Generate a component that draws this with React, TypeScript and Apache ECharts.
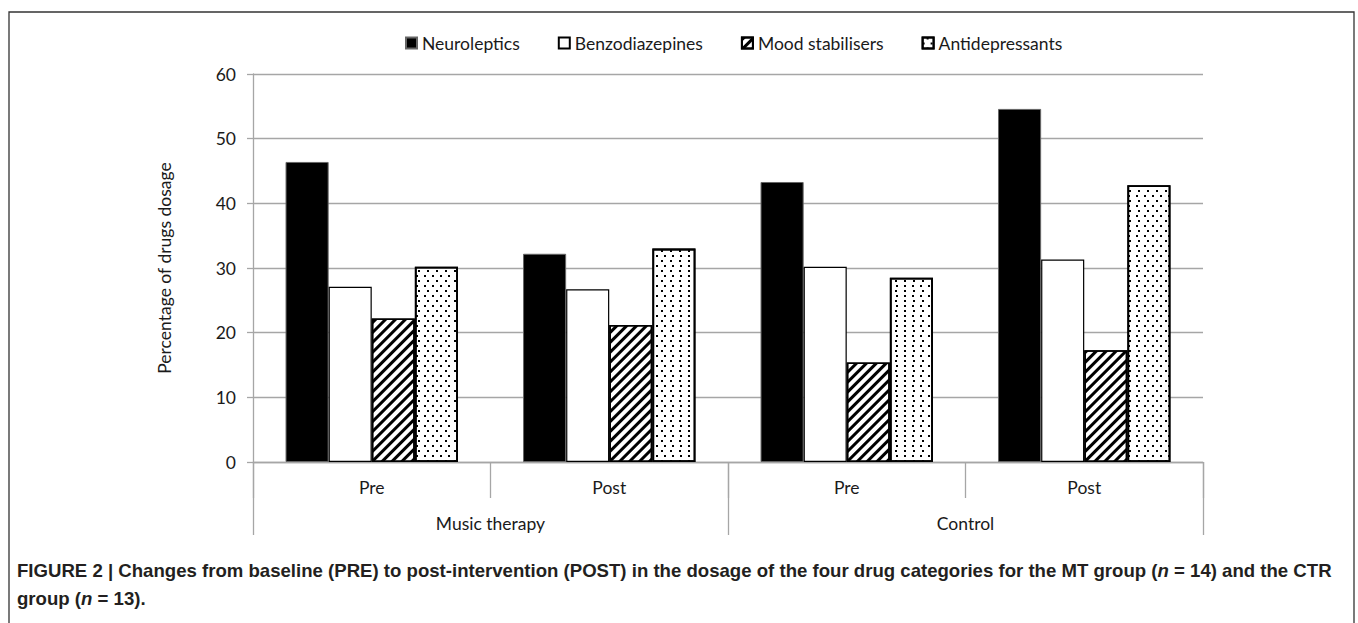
import React, { useEffect, useRef } from "react";
import * as echarts from "echarts";

const subCategories = ["Pre", "Post", "Pre", "Post"];
const groups = ["Music therapy", "Control"];
const yTicks = [0, 10, 20, 30, 40, 50, 60];

const neuroleptics = [46.4, 32.2, 43.3, 54.6];
const benzodiazepines = [27.1, 26.7, 30.2, 31.3];
const moodStabilisers = [22.2, 21.2, 15.4, 17.3];
const antidepressants = [30.2, 33.0, 28.5, 42.8];

const seriesNames = ["Neuroleptics", "Benzodiazepines", "Mood stabilisers", "Antidepressants"];

const FONT = "Lato";
const FS = 17.5;
const GRID_COLOR = "#a6a6a6";
const TEXT = "#1a1a1a";

export default function App() {
  const ref = useRef<HTMLDivElement>(null);

  useEffect(() => {
    if (!ref.current) return;
    const chart = echarts.init(ref.current, undefined, { renderer: "svg" });

    const axisLineStyle = { color: GRID_COLOR, width: 1.3 };

    const option: any = {
      animation: false,
      backgroundColor: "#fff",
      textStyle: { fontFamily: FONT },
      legend: {
        data: seriesNames,
        left: 400,
        top: 29,
        itemWidth: 11,
        itemHeight: 11,
        itemGap: 38,
        textStyle: { fontFamily: FONT, fontSize: FS, color: TEXT },
        icon: "rect",
      },
      grid: { left: 253, right: 155, top: 74, bottom: 161, containLabel: false },
      xAxis: [
        {
          type: "category",
          data: subCategories,
          position: "bottom",
          axisLine: { show: true, lineStyle: axisLineStyle },
          axisTick: { show: true, interval: 0, length: 36, lineStyle: axisLineStyle },
          axisLabel: { interval: 0, margin: 16, fontSize: FS, color: TEXT, fontFamily: FONT },
          splitLine: { show: false },
        },
        {
          type: "category",
          data: groups,
          position: "bottom",
          axisLine: { show: false },
          axisTick: { show: true, interval: 0, length: 73, lineStyle: axisLineStyle },
          axisLabel: { interval: 0, margin: 52, fontSize: FS, color: TEXT, fontFamily: FONT },
          splitLine: { show: false },
        },
      ],
      yAxis: {
        type: "value",
        min: yTicks[0],
        max: yTicks[yTicks.length - 1],
        interval: 10,
        name: "Percentage of drugs dosage",
        nameLocation: "middle",
        nameGap: 80,
        nameTextStyle: { fontSize: FS, color: TEXT, fontFamily: FONT },
        axisLine: { show: true, lineStyle: axisLineStyle },
        axisTick: { show: true, length: 6, lineStyle: axisLineStyle },
        axisLabel: { margin: 17, fontSize: FS, color: TEXT, fontFamily: FONT },
        splitLine: { show: true, lineStyle: { color: GRID_COLOR, width: 1.3 } },
      },
      series: [
        {
          name: seriesNames[0],
          type: "bar",
          data: neuroleptics,
          barGap: "0%",
          barCategoryGap: "27.4%",
          itemStyle: { color: "#000", borderColor: "#666", borderWidth: 1 },
        },
        {
          name: seriesNames[1],
          type: "bar",
          data: benzodiazepines,
          barGap: "0%",
          barCategoryGap: "27.4%",
          itemStyle: { color: "#fff", borderColor: "#000", borderWidth: 1.2 },
        },
        {
          name: seriesNames[2],
          type: "bar",
          data: moodStabilisers,
          barGap: "0%",
          barCategoryGap: "27.4%",
          itemStyle: {
            color: "#fff",
            borderColor: "#000",
            borderWidth: 1.6,
            decal: {
              symbol: "rect",
              symbolSize: 1,
              color: "#000",
              dashArrayX: [1, 0],
              dashArrayY: [2.6, 3.4],
              rotation: -Math.PI / 4,
            },
          },
        },
        {
          name: seriesNames[3],
          type: "bar",
          data: antidepressants,
          barGap: "0%",
          barCategoryGap: "27.4%",
          itemStyle: {
            color: "#fff",
            borderColor: "#000",
            borderWidth: 1.8,
            decal: {
              symbol: "rect",
              symbolSize: 1,
              color: "#000",
              dashArrayX: [[1.3, 5.4], [0, 3.35, 1.3, 2.05]],
              dashArrayY: [1.3, 2.05],
              rotation: 0,
            },
          },
        },
      ],
      graphic: [
        {
          type: "polyline",
          silent: true,
          shape: { points: [[9, 623], [9, 12], [1354, 12], [1354, 623]] },
          style: { stroke: "#333", lineWidth: 1.3, fill: "none" },
        },
        {
          type: "text",
          left: 17,
          top: 561,
          silent: true,
          style: {
            text:
              "{b|FIGURE 2 | Changes from baseline (PRE) to post-intervention (POST) in the dosage of the four drug categories for the MT group (}{i|n}{b| = 14) and the CTR}\n{b|group (}{i|n}{b| = 13).}",
            rich: {
              b: {
                fontFamily: "Liberation Sans",
                fontWeight: "bold",
                fontSize: 18.6,
                lineHeight: 28,
                fill: "#231f20",
              },
              i: {
                fontFamily: "Liberation Sans",
                fontWeight: "bold",
                fontStyle: "italic",
                fontSize: 18.6,
                lineHeight: 28,
                fill: "#231f20",
              },
            },
          },
        },
      ],
    };

    chart.setOption(option);
    return () => chart.dispose();
  }, []);

  return (
    <div
      ref={ref}
      style={{ position: "absolute", left: 0, top: 0, width: 1358, height: 623 }}
    />
  );
}
